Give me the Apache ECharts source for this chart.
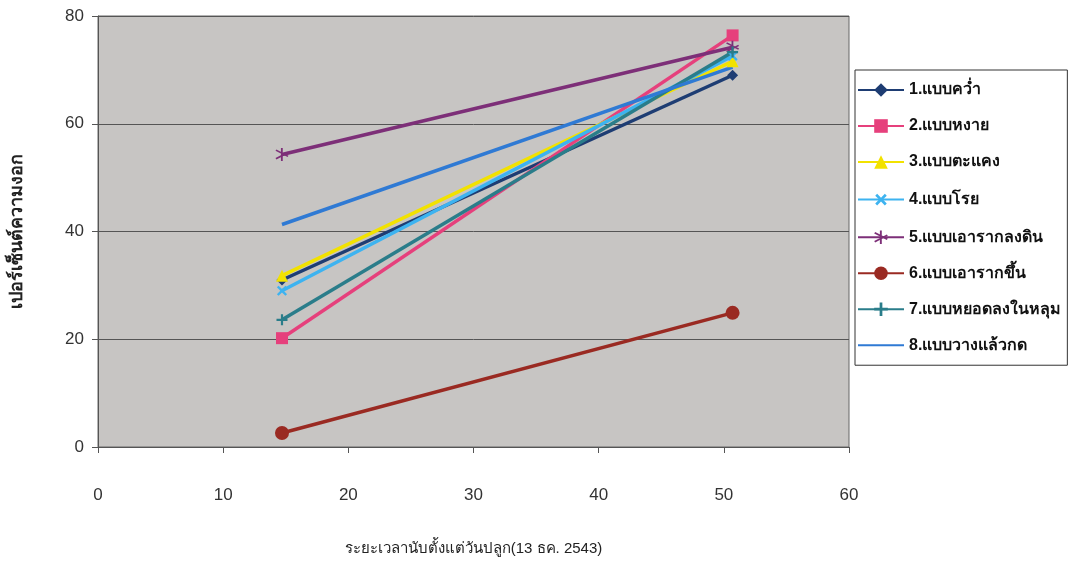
<!DOCTYPE html>
<html><head><meta charset="utf-8">
<script src="https://cdn.jsdelivr.net/npm/echarts@6/dist/echarts.min.js"></script>
<style>html,body{margin:0;padding:0;background:#fff}#c{width:1078px;height:562px}</style>
</head><body><div id="c"></div>
<script>
const xDays = [14.7, 50.7];
const seriesNames = ['1.แบบคว่ำ','2.แบบหงาย','3.แบบตะแคง','4.แบบโรย','5.แบบเอารากลงดิน','6.แบบเอารากขึ้น','7.แบบหยอดลงในหลุม','8.แบบวางแล้วกด'];
const s1 = [31.0, 69.0];
const s2 = [20.2, 76.4];
const s3 = [31.8, 71.6];
const s4 = [29.0, 72.6];
const s5 = [54.3, 74.2];
const s6 = [2.6, 24.9];
const s7 = [23.6, 73.3];
const s8 = [41.3, 70.5];
const xTicks = [0,10,20,30,40,50,60];
const yTicks = [0,20,40,60,80];

const values = [s1,s2,s3,s4,s5,s6,s7,s8];
const colors = ['#1e3d73','#e6407c','#f2e200','#3db3f0','#7d2f78','#9a2a22','#2a7d8a','#2f7ad4'];
const PLUS = 'path://M4,0h2v4h4v2h-4v4h-2v-4h-4v-2h4z';
const STAR = 'path://M4.4,0h1.2v10h-1.2z M0.8,2.2l0.6,-1l8,4.8l-0.6,1z M0.8,7.8l8,-4.8l0.6,1l-8,4.8z';
const symbols = ['diamond','rect','triangle',PLUS,STAR,'circle',PLUS,'none'];
const sizes = [11,12,12,12,13,14,11,0];
const rots = [0,0,0,45,0,0,0,0];

const series = seriesNames.map((n,i)=>({
  name:n, type:'line',
  data: xDays.map((x,j)=>[x, values[i][j]]),
  symbol: symbols[i], symbolSize: sizes[i], symbolRotate: rots[i],
  showSymbol: symbols[i] !== 'none',
  lineStyle:{width:3.5,color:colors[i]},
  itemStyle:{color:colors[i], borderWidth:0},
  emphasis:{disabled:true}
}));

const legendData = seriesNames.map((n,i)=> symbols[i]==='none' ? {name:n,itemStyle:{opacity:0}} : {name:n});

const chart = echarts.init(document.getElementById('c'), null, {renderer:'canvas'});
chart.setOption({
  animation:false,
  backgroundColor:'#fff',
  textStyle:{fontFamily:'Liberation Sans, Arial, sans-serif'},
  grid:{left:98,right:229,top:16,bottom:115,outerBoundsMode:'none',containLabel:false,show:true,backgroundColor:'#c7c5c3',borderColor:'#666',borderWidth:1},
  xAxis:{type:'value',min:0,max:60,interval:10,
    name:'ระยะเวลานับตั้งแต่วันปลูก(13 ธค. 2543)',nameLocation:'middle',nameGap:94,
    nameTextStyle:{fontSize:15,color:'#222'},
    axisLine:{show:true,lineStyle:{color:'#555'}},
    axisTick:{show:true,inside:false,length:6,lineStyle:{color:'#555'}},
    axisLabel:{margin:40,fontSize:17,color:'#333',formatter:v=>xTicks.includes(v)?String(v):''},
    splitLine:{show:false}},
  yAxis:{type:'value',min:0,max:80,interval:20,
    name:'เปอร์เซ็นต์ความงอก',nameLocation:'middle',nameGap:72,nameRotate:90,
    nameTextStyle:{fontSize:18,fontWeight:'bold',color:'#222'},
    axisLine:{show:true,lineStyle:{color:'#555'}},
    axisTick:{show:true,length:6,lineStyle:{color:'#555'}},
    axisLabel:{margin:14,fontSize:17,color:'#333',formatter:v=>yTicks.includes(v)?String(v):''},
    splitLine:{show:true,lineStyle:{color:'#555',width:1}}},
  legend:{orient:'vertical',left:855,top:70,width:220,
    backgroundColor:'#fff',borderColor:'#333',borderWidth:1,
    padding:[12,6,12,2],itemGap:20,itemWidth:46,itemHeight:17,
    textStyle:{fontSize:16,fontWeight:'bold',color:'#111'},
    data:legendData},
  series
});
</script></body></html>
